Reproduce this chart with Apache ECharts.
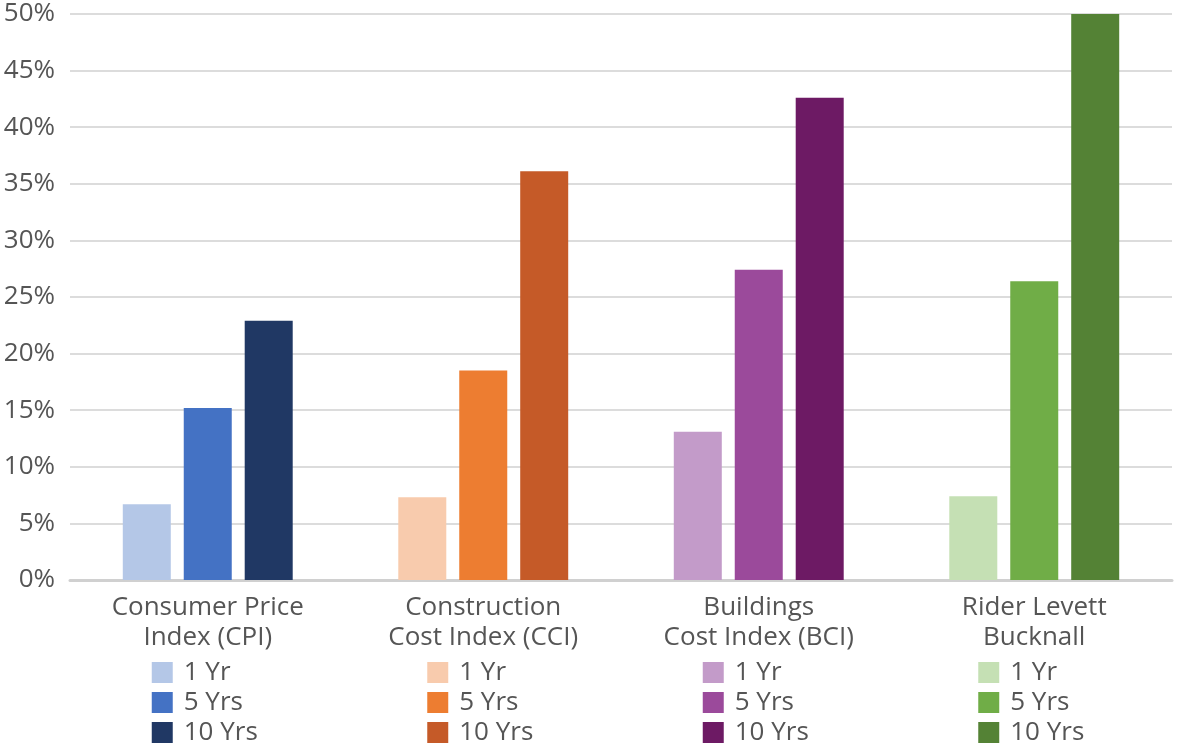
<!DOCTYPE html>
<html>
<head>
<meta charset="utf-8">
<script src="https://cdn.jsdelivr.net/npm/echarts@6/dist/echarts.min.js"></script>
<style>html,body{margin:0;padding:0;background:#fff;}#c{width:1180px;height:745px;}</style>
</head>
<body>
<div id="c"></div>
<script>
const categories = ['Consumer Price\nIndex (CPI)', 'Construction\nCost Index (CCI)', 'Buildings\nCost Index (BCI)', 'Rider Levett\nBucknall'];
const periods = ['1 Yr', '5 Yrs', '10 Yrs'];
const oneYr = [6.7, 7.3, 13.1, 7.4];
const fiveYrs = [15.2, 18.5, 27.4, 26.4];
const tenYrs = [22.9, 36.1, 42.6, 50.0];
const yTicks = [0, 5, 10, 15, 20, 25, 30, 35, 40, 45, 50];
const palette = [
  ['#b4c7e7', '#4472c4', '#203864'],
  ['#f8cbad', '#ed7d31', '#c55a28'],
  ['#c39bc9', '#9b4a9b', '#6d1a64'],
  ['#c5e0b4', '#70ad47', '#548235']
];

const FONT = 'Open Sans';
const TXT = '#555555';
const seriesValues = [oneYr, fiveYrs, tenYrs];

const chart = echarts.init(document.getElementById('c'), null, {renderer: 'canvas'});
const option = {
  animation: false,
  backgroundColor: '#fff',
  grid: {left: 70, right: 8, top: 14, bottom: 165, containLabel: false},
  xAxis: {
    type: 'category',
    data: categories,
    axisTick: {show: false},
    axisLine: {show: true, lineStyle: {color: '#d0d0d0', width: 3}},
    axisLabel: {color: TXT, fontFamily: FONT, fontSize: 26, lineHeight: 30, margin: 13, interval: 0}
  },
  yAxis: {
    type: 'value',
    min: yTicks[0],
    max: yTicks[yTicks.length - 1],
    interval: 5,
    axisLine: {show: false},
    axisTick: {show: false},
    splitLine: {lineStyle: {color: '#dcdcdc', width: 2}},
    axisLabel: {color: TXT, fontFamily: FONT, fontSize: 26, margin: 15, formatter: '{value}%'}
  },
  series: periods.map((p, k) => ({
    name: p,
    type: 'bar',
    barWidth: 48,
    barGap: '27%',
    data: seriesValues[k].map((v, i) => ({value: v, itemStyle: {color: palette[i][k]}}))
  }))
};
chart.setOption(option);

// Per-category legends below the axis labels
const graphics = [];
const baseY = chart.convertToPixel({yAxisIndex: 0}, 0);
categories.forEach((c, i) => {
  const cx = chart.convertToPixel({xAxisIndex: 0}, i);
  const left = cx - 56;
  periods.forEach((p, k) => {
    const top = baseY + 82 + k * 30;
    graphics.push({
      type: 'rect',
      shape: {x: left, y: top, width: 21, height: 21},
      style: {fill: palette[i][k]}
    });
    graphics.push({
      type: 'text',
      x: left + 32,
      y: top + 11,
      style: {text: p, fill: TXT, font: '26px "' + FONT + '"', textVerticalAlign: 'middle', textAlign: 'left'}
    });
  });
});
chart.setOption({graphic: graphics});
</script>
</body>
</html>
